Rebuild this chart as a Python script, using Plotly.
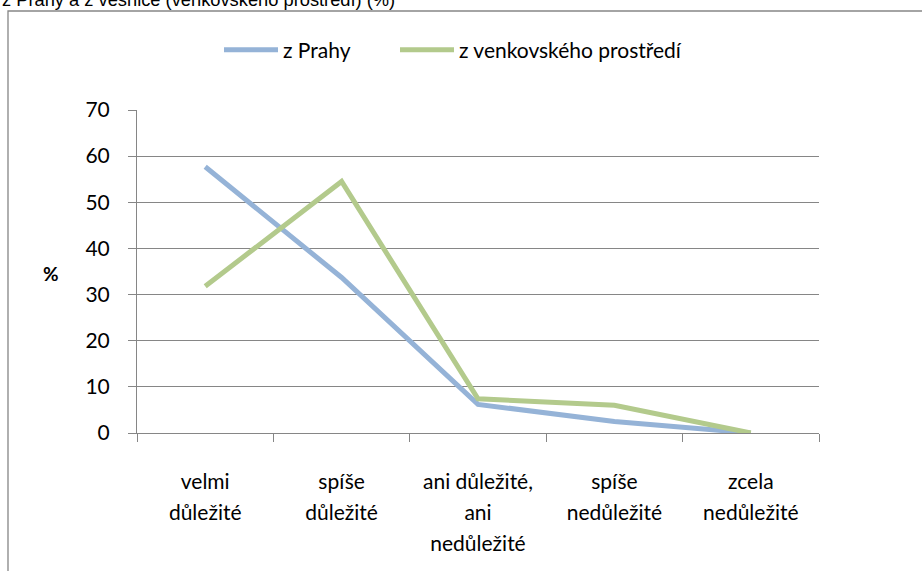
import plotly.graph_objects as go

categories = ["velmi<br>důležité", "spíše<br>důležité", "ani důležité,<br>ani<br>nedůležité",
              "spíše<br>nedůležité", "zcela<br>nedůležité"]
praha = [57.7, 33.7, 6.2, 2.5, 0.0]
venkov = [31.8, 54.5, 7.4, 6.0, 0.0]
series_names = ["z Prahy", "z venkovského prostředí"]
title_text = "z Prahy a z vesnice (venkovského prostředí) (%)"
y_ticks = [0, 10, 20, 30, 40, 50, 60, 70]

W, H = 922, 571
L, R, T, B = 137, 819, 110, 433  # plot area pixel bounds
pw, ph = R - L, B - T

def px(x):
    return (x - L) / pw

def py(y):
    return (B - y) / ph

FONT = "Lato, 'Open Sans', sans-serif"
GRID = "#868686"
LABEL_SIZE = 21

# wrap every line of the category labels so the line spacing is taken from a larger base font
tick_text = ["<br>".join(f'<span style="font-size:{LABEL_SIZE}px">{part}</span>'
                         for part in c.split("<br>")) for c in categories]

fig = go.Figure()
fig.add_trace(go.Scatter(x=categories, y=praha, mode="lines", name=series_names[0],
                         line=dict(color="#95B3D7", width=5), legend="legend"))
fig.add_trace(go.Scatter(x=categories, y=venkov, mode="lines", name=series_names[1],
                         line=dict(color="#B3CA8C", width=5), legend="legend2"))

leg_common = dict(orientation="h", yanchor="middle", xanchor="left", itemwidth=54,
                  font=dict(family=FONT, size=21, color="#000000"),
                  bgcolor="rgba(0,0,0,0)")

fig.update_layout(
    width=W, height=H,
    margin=dict(l=L, r=W - R, t=T, b=H - B, pad=0),
    paper_bgcolor="white", plot_bgcolor="white",
    font=dict(family=FONT, size=21, color="#000000"),
    showlegend=True,
    legend=dict(x=px(219), y=py(50), **leg_common),
    legend2=dict(x=px(395), y=py(50), **leg_common),
    xaxis=dict(type="category", range=[-0.5, 4.5], tickson="boundaries",
               tickmode="array", tickvals=categories, ticktext=tick_text,
               ticks="outside", ticklen=8, tickcolor=GRID, tickwidth=1,
               showline=True, linecolor=GRID, linewidth=1, showgrid=False,
               zeroline=False, ticklabelstandoff=26,
               tickfont=dict(family=FONT, size=24, color="#000000")),
    yaxis=dict(range=[0, 70], tickvals=y_ticks, ticks="outside", ticklen=8,
               tickcolor=GRID, tickwidth=1, showline=True, linecolor=GRID, linewidth=1,
               showgrid=True, gridcolor=GRID, gridwidth=1, zeroline=False,
               ticklabelstandoff=14,
               tickfont=dict(family=FONT, size=21, color="#000000")),
    shapes=[dict(type="rect", xref="paper", yref="paper",
                 x0=px(8), x1=px(960), y0=py(11), y1=py(620),
                 line=dict(color=GRID, width=1.3), fillcolor="rgba(0,0,0,0)", layer="below")],
    annotations=[
        dict(text=title_text, xref="paper", yref="paper", x=px(0), y=py(12),
             xanchor="left", yanchor="bottom", showarrow=False,
             font=dict(family="'Liberation Sans', Arial, sans-serif", size=18.3, color="#000000")),
        dict(text="<b>%</b>", xref="paper", yref="paper", x=px(51), y=py(273),
             xanchor="center", yanchor="middle", showarrow=False,
             font=dict(family=FONT, size=19, color="#000000")),
    ],
)

fig.write_html("out.html", config={"displayModeBar": False},
               post_script="document.body.style.margin='0px';")
